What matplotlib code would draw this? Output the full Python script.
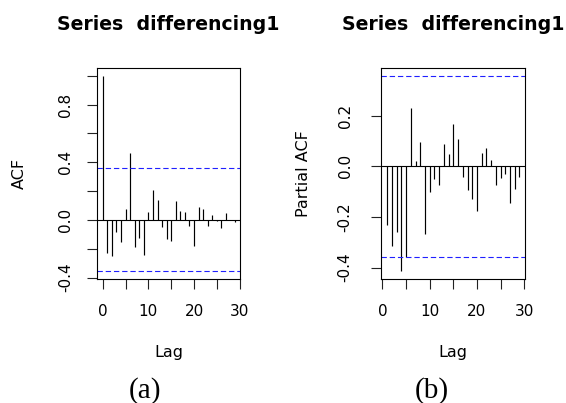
import numpy as np
import matplotlib
matplotlib.use('Agg')
from matplotlib import pyplot as plt

#----------------------------------
# values
acf_lags = np.arange(0, 30)
acf_vals = [1.0, -0.231, -0.247, -0.081, -0.150, 0.074, 0.462, -0.190, -0.127, -0.243,
            0.058, 0.208, 0.139, -0.051, -0.134, -0.143, 0.132, 0.062, 0.053, -0.042,
            -0.178, 0.090, 0.074, -0.042, 0.035, -0.007, -0.058, 0.046, 0.002, -0.016]
pacf_lags = np.arange(1, 30)
pacf_vals = [-0.230, -0.316, -0.259, -0.414, -0.358, 0.229, 0.020, 0.097, -0.266, -0.103,
             -0.050, -0.075, 0.088, 0.049, 0.168, 0.109, -0.042, -0.095, -0.128, -0.176,
             0.053, 0.072, 0.025, -0.075, -0.047, -0.030, -0.143, -0.091, -0.042]
n_obs = 30
ci = 1.96 / np.sqrt(n_obs)

title = 'Series  differencing1'
x_ticks = [0, 5, 10, 15, 20, 25, 30]
x_labels = ['0', '', '10', '', '20', '', '30']
acf_yticks = [-0.4, -0.2, 0.0, 0.2, 0.4, 0.6, 0.8, 1.0]
acf_ylabels = ['-0.4', '', '0.0', '', '0.4', '', '0.8', '']
pacf_yticks = [-0.4, -0.2, 0.0, 0.2]
pacf_ylabels = ['-0.4', '-0.2', '0.0', '0.2']

#----------------------------------
fig = plt.figure(figsize=(5.66, 4.03), dpi=100)
ax1 = fig.add_axes([0.1714, 0.3077, 0.2527, 0.5236])
ax2 = fig.add_axes([0.6737, 0.3077, 0.2534, 0.5236])


def correlogram(ax, lags, vals, ylab, yticks, ylabels, xlim, ylim, ypad):
    ax.vlines(lags, 0, vals, color='black', lw=0.85)
    ax.axhline(0, color='black', lw=0.8)
    for c in (ci, -ci):
        ax.axhline(c, color='#2020ff', lw=0.8, linestyle=(0, (4.8, 2.6)))
    ax.set_xlim(xlim)
    ax.set_ylim(ylim)
    ax.set_xticks(x_ticks, x_labels)
    ax.set_yticks(yticks, ylabels)
    ax.tick_params(axis='both', length=7.2, width=0.8, labelsize=11, color='#222222')
    ax.tick_params(axis='x', pad=10.5)
    ax.tick_params(axis='y', pad=ypad, labelrotation=90)
    for lab in ax.get_yticklabels():
        lab.set_va('center')
    for sp in ax.spines.values():
        sp.set_linewidth(0.8)
    ax.set_title(title, fontsize=13.6, fontweight='bold', pad=27.4)
    ax.set_xlabel('Lag', fontsize=11.5)
    ax.xaxis.set_label_coords(0.5, -0.346)
    ax.set_ylabel(ylab, fontsize=11.5)
    ax.yaxis.set_label_coords(-0.545, 0.5)
    ax.yaxis.label.set_va('center')
    ax.xaxis.label.set_va('center')


correlogram(ax1, acf_lags, acf_vals, 'ACF', acf_yticks, acf_ylabels,
            (-1.25, 30.07), (-0.41, 1.054), 10.0)
correlogram(ax2, pacf_lags, pacf_vals, 'Partial ACF', pacf_yticks, pacf_ylabels,
            (-0.25, 30.12), (-0.445, 0.389), 13.5)

fig.text(144.5 / 566, 1 - 398 / 403, '(a)', family='Liberation Serif', fontsize=21,
         ha='center', va='baseline')
fig.text(432 / 566, 1 - 398 / 403, '(b)', family='Liberation Serif', fontsize=21,
         ha='center', va='baseline')

fig.savefig('out.png', dpi=100)
